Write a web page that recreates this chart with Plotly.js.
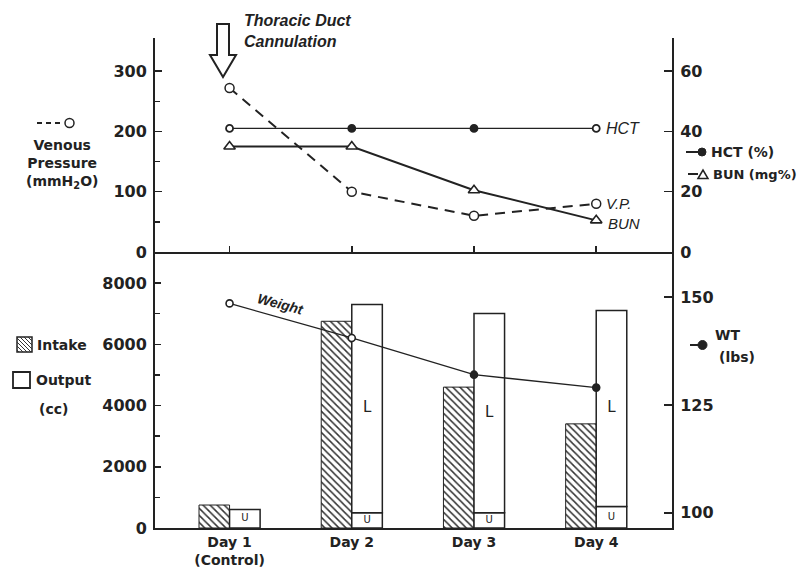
<!DOCTYPE html>
<html>
<head>
<meta charset="utf-8">
<script src="https://cdn.plot.ly/plotly-3.0.1.min.js"></script>
<style>html,body{margin:0;padding:0;background:#fff;}#chart{width:806px;height:574px;}</style>
</head>
<body>
<div id="chart"></div>
<script>
// ---- data ----
const days = [1, 2, 3, 4];
const dayLabels = ['Day 1<br>(Control)', 'Day 2', 'Day 3', 'Day 4'];
const venousPressure = [272, 100, 60, 80];      // mmH2O (left top axis)
const hct = [41, 41, 41, 41];                   // % (right top axis)
const bun = [35, 35, 20.5, 10.5];               // mg% (right top axis)
const intake = [750, 6750, 4600, 3400];         // cc
const outputTotal = [600, 7300, 7000, 7100];    // cc
const urine = [600, 500, 500, 700];             // cc (U part of output)
const weight = [148.5, 140.5, 132, 129];        // lbs

const lymph = outputTotal.map((v, i) => v - urine[i]);

const INK = '#222';
const FONT = 'DejaVu Sans, sans-serif';
const IFONT = 'Liberation Sans, Arial, sans-serif';
const TXT = {family: FONT, size: 14, color: INK, weight: 'bold'};

// plot-area pixel helpers for decorations (legends / arrow)
const L0 = 155, W = 517, B0 = 528, H = 490;
const px = x => (x - L0) / W;
const py = y => (B0 - y) / H;

const traces = [
  // bottom panel bars
  {type: 'bar', x: days, y: intake, xaxis: 'x2', yaxis: 'y3', width: 0.25, offset: -0.25,
   marker: {color: 'white', line: {color: INK, width: 1},
            pattern: {shape: '\\', fgcolor: '#333', bgcolor: 'white', size: 5, solidity: 0.3}},
   hoverinfo: 'skip'},
  {type: 'bar', x: days, y: urine, xaxis: 'x2', yaxis: 'y3', width: 0.25, offset: 0,
   marker: {color: 'white', line: {color: INK, width: 1.5}}, hoverinfo: 'skip'},
  {type: 'bar', x: days.filter((d, i) => lymph[i] > 0), y: lymph.filter(v => v > 0),
   base: urine.filter((u, i) => lymph[i] > 0), xaxis: 'x2', yaxis: 'y3', width: 0.25, offset: 0,
   marker: {color: 'white', line: {color: INK, width: 1.5}}, hoverinfo: 'skip'},
  // U / L labels inside output bars
  {type: 'scatter', mode: 'text', x: days.map(d => d + 0.125), y: urine.map(u => u / 2),
   text: days.map(() => 'U'), textfont: {family: FONT, size: 10, color: INK},
   xaxis: 'x2', yaxis: 'y3', hoverinfo: 'skip'},
  {type: 'scatter', mode: 'text', x: days.filter((d, i) => lymph[i] > 0).map(d => d + 0.125),
   y: urine.map((u, i) => (u + outputTotal[i]) / 2).filter((v, i) => lymph[i] > 0),
   text: lymph.filter(v => v > 0).map(() => 'L'), textfont: {family: FONT, size: 15, color: INK},
   xaxis: 'x2', yaxis: 'y3', hoverinfo: 'skip'},
  // weight
  {type: 'scatter', mode: 'lines+markers', x: days, y: weight, xaxis: 'x2', yaxis: 'y4',
   line: {color: INK, width: 1.3},
   marker: {symbol: 'circle', size: 7, color: ['white', 'white', INK, INK], line: {color: INK, width: 1.6}}},
  // top panel
  {type: 'scatter', mode: 'lines+markers', x: days, y: hct, xaxis: 'x', yaxis: 'y2',
   line: {color: INK, width: 1.3},
   marker: {symbol: 'circle', size: 7, color: ['white', INK, INK, 'white'], line: {color: INK, width: 1.8}}},
  {type: 'scatter', mode: 'lines+markers', x: days, y: bun, xaxis: 'x', yaxis: 'y2',
   line: {color: INK, width: 2},
   marker: {symbol: 'triangle-up', size: 10, color: 'white', line: {color: INK, width: 1.6}}},
  {type: 'scatter', mode: 'lines+markers', x: days, y: venousPressure, xaxis: 'x', yaxis: 'y',
   line: {color: INK, width: 2, dash: '10px,7px'},
   marker: {symbol: 'circle', size: 9, color: 'white', line: {color: INK, width: 1.5}}}
];

const xRange = [0.39, 4.62];
const topDom = [276 / 490, 1], botDom = [0, 276 / 490];
const axisBase = {showgrid: false, zeroline: false, showline: true, linecolor: INK, linewidth: 2,
                  tickcolor: INK, tickwidth: 1.5, tickfont: {family: FONT, size: 16, color: INK, weight: 'bold'}};

// hatched legend square
const hatchPath = (() => {
  const x0 = 17, y0 = 337, s = 15, step = 4;
  let p = '';
  for (let k = -s + 2; k < s; k += step) {
    let xa = Math.max(x0, x0 + k), xb = Math.min(x0 + s, x0 + s + k);
    if (xb <= xa) continue;
    const ya = y0 + (xa - x0) - k, yb = y0 + (xb - x0) - k;
    p += `M${px(xa)},${py(ya)} L${px(xb)},${py(yb)} `;
  }
  return p;
})();

const arrowPts = [[217, 24], [217, 55], [210, 55], [223, 77], [236, 55], [229, 55], [229, 24]];
const arrowPath = 'M' + arrowPts.map(p => px(p[0]) + ',' + py(p[1])).join(' L') + ' Z';

const tri = (cx, cy, r) => `M${px(cx - r)},${py(cy + r * 0.7)} L${px(cx)},${py(cy - r)} L${px(cx + r)},${py(cy + r * 0.7)} Z`;

const shapes = [
  {type: 'path', xref: 'paper', yref: 'paper', path: arrowPath, line: {color: INK, width: 2}, fillcolor: 'white'},
  // VP legend
  {type: 'line', xref: 'paper', yref: 'paper', x0: px(37), x1: px(64), y0: py(123), y1: py(123), line: {color: INK, width: 2, dash: '5px,4px'}},
  {type: 'circle', xref: 'paper', yref: 'paper', x0: px(65), x1: px(74), y0: py(118.5), y1: py(127.5), line: {color: INK, width: 1.5}, fillcolor: 'white'},
  // HCT legend
  {type: 'line', xref: 'paper', yref: 'paper', x0: px(686), x1: px(699), y0: py(152), y1: py(152), line: {color: INK, width: 2}},
  {type: 'circle', xref: 'paper', yref: 'paper', x0: px(698), x1: px(706), y0: py(148), y1: py(156), line: {color: INK, width: 1}, fillcolor: INK},
  // BUN legend
  {type: 'line', xref: 'paper', yref: 'paper', x0: px(688), x1: px(698), y0: py(174), y1: py(174), line: {color: INK, width: 2}},
  {type: 'path', xref: 'paper', yref: 'paper', path: tri(703, 175, 5), line: {color: INK, width: 1.5}, fillcolor: 'white'},
  // Intake legend square
  {type: 'rect', xref: 'paper', yref: 'paper', x0: px(17), x1: px(32), y0: py(337), y1: py(352), line: {color: INK, width: 1.5}, fillcolor: 'white'},
  {type: 'path', xref: 'paper', yref: 'paper', path: hatchPath, line: {color: '#333', width: 1}},
  // Output legend square
  {type: 'rect', xref: 'paper', yref: 'paper', x0: px(13), x1: px(30), y0: py(372), y1: py(388), line: {color: INK, width: 1.8}, fillcolor: 'white'},
  // WT legend
  {type: 'line', xref: 'paper', yref: 'paper', x0: px(690), x1: px(700), y0: py(345), y1: py(345), line: {color: INK, width: 2}},
  {type: 'circle', xref: 'paper', yref: 'paper', x0: px(698), x1: px(707), y0: py(340.5), y1: py(349.5), line: {color: INK, width: 1}, fillcolor: INK}
];

const ann = (text, x, y, opts) => Object.assign({text, x: px(x), y: py(y), xref: 'paper', yref: 'paper',
  showarrow: false, xanchor: 'left', yanchor: 'middle', font: TXT}, opts || {});

const annotations = [
  ann('Thoracic Duct<br>Cannulation', 242, 31, {font: {family: IFONT, size: 16, color: INK, style: 'italic', weight: 'bold'}, align: 'left'}),
  ann('Venous<br>Pressure<br>(mmH<sub>2</sub>O)', 62, 164, {xanchor: 'center', align: 'center'}),
  ann('HCT (%)', 709, 152),
  ann('BUN (mg%)', 711, 174, {font: Object.assign({}, TXT, {size: 13})}),
  ann('Intake', 35, 345),
  ann('Output', 34, 380),
  ann('(cc)', 37, 409),
  ann('WT', 713, 335),
  ann('(lbs)', 717, 357),
  // inline series labels
  {text: 'HCT', x: days[3], y: hct[3], xref: 'x', yref: 'y2', showarrow: false, xanchor: 'left', xshift: 8,
   font: {family: IFONT, size: 16, color: INK, style: 'italic'}},
  {text: 'V.P.', x: days[3], y: venousPressure[3], xref: 'x', yref: 'y', showarrow: false, xanchor: 'left', xshift: 8,
   font: {family: IFONT, size: 15, color: INK, style: 'italic'}},
  {text: 'BUN', x: days[3], y: bun[3], xref: 'x', yref: 'y2', showarrow: false, xanchor: 'left', xshift: 10, yshift: -3,
   font: {family: IFONT, size: 15, color: INK, style: 'italic'}},
  {text: 'Weight', x: 1.42, y: weight[0] + (weight[1] - weight[0]) * 0.42, xref: 'x2', yref: 'y4',
   showarrow: false, yshift: 14, textangle: 15,
   font: {family: IFONT, size: 14, color: INK, style: 'italic', weight: 'bold'}}
];

const layout = {
  width: 806, height: 574,
  margin: {l: 155, r: 134, t: 38, b: 46},
  paper_bgcolor: 'white', plot_bgcolor: 'white',
  showlegend: false, barmode: 'overlay', bargap: 0,
  xaxis: Object.assign({}, axisBase, {domain: [0, 1], anchor: 'y', range: xRange, tickvals: days,
    ticks: 'inside', ticklen: 6, showticklabels: false}),
  yaxis: Object.assign({}, axisBase, {domain: topDom, anchor: 'x', range: [0, 355], tickvals: [0, 100, 200, 300],
    ticks: 'inside', ticklen: 7, ticklabelstandoff: 3,
    minor: {tickvals: [50, 150, 250], ticks: 'inside', ticklen: 5, tickcolor: INK}}),
  yaxis2: Object.assign({}, axisBase, {overlaying: 'y', side: 'right', anchor: 'x', range: [0, 71],
    tickvals: [0, 20, 40, 60], ticks: 'inside', ticklen: 8, ticklabelstandoff: 3}),
  xaxis2: Object.assign({}, axisBase, {domain: [0, 1], anchor: 'y3', range: xRange, tickvals: days,
    ticktext: dayLabels, ticks: '', tickfont: {family: FONT, size: 14, color: INK, weight: 'bold'}}),
  yaxis3: Object.assign({}, axisBase, {domain: botDom, anchor: 'x2', range: [0, 9012],
    tickvals: [0, 2000, 4000, 6000, 8000], ticks: 'inside', ticklen: 6, ticklabelstandoff: 3,
    minor: {tickvals: [1000, 3000, 5000, 7000], ticks: 'inside', ticklen: 5, tickcolor: INK}}),
  yaxis4: Object.assign({}, axisBase, {overlaying: 'y3', side: 'right', anchor: 'x2', range: [96.5, 160.4],
    tickvals: [100, 125, 150], ticks: 'inside', ticklen: 8, ticklabelstandoff: 3}),
  shapes, annotations
};

Plotly.newPlot('chart', traces, layout, {displayModeBar: false, staticPlot: true});
</script>
</body>
</html>
